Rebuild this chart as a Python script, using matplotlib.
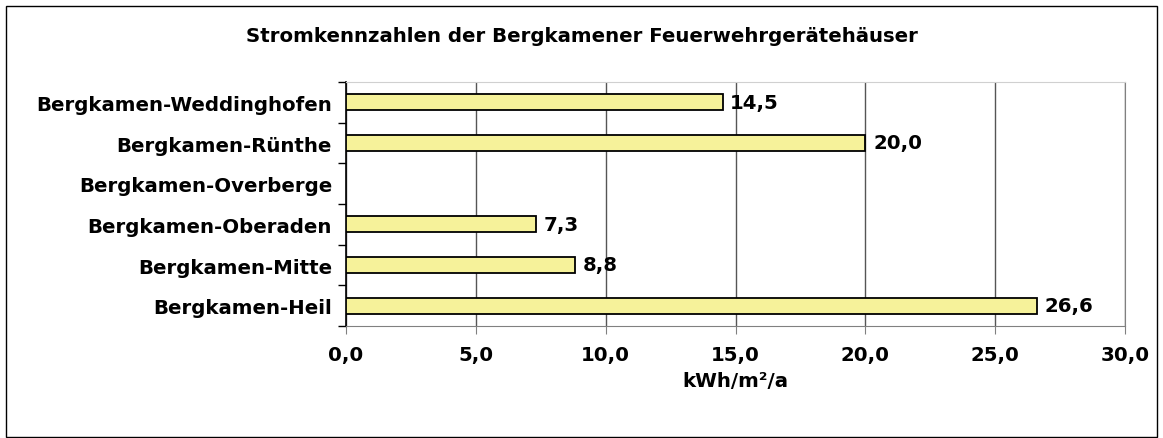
import numpy as np
import matplotlib.pyplot as plt
from matplotlib.patches import Rectangle

plt.rcParams['font.family'] = ['DejaVu Sans']
plt.rcParams['font.weight'] = 'bold'

# Daten
kategorien = ['Bergkamen-Heil', 'Bergkamen-Mitte', 'Bergkamen-Oberaden',
              'Bergkamen-Overberge', 'Bergkamen-Rünthe', 'Bergkamen-Weddinghofen']
werte = [26.6, 8.8, 7.3, np.nan, 20.0, 14.5]
x_ticks = [0, 5, 10, 15, 20, 25, 30]

FS = 14.2

fig = plt.figure(figsize=(11.63, 4.39), dpi=100)
ax = fig.add_axes([346 / 1163, 1 - 327 / 439, (1125 - 346) / 1163, (327 - 83) / 439])

# Rahmen um die ganze Grafik
fig.patches.append(Rectangle((6 / 1163, 1 / 439), 1151 / 1163, 431 / 439,
                             transform=fig.transFigure, fill=False,
                             edgecolor='black', linewidth=1.0))

y = np.arange(len(kategorien))
ax.barh(y, werte, height=0.4, color='#F6F29A', edgecolor='black', linewidth=1.3, zorder=3)

for yi, v in zip(y, werte):
    if not np.isnan(v):
        ax.text(v + 0.3, yi, f'{v:.1f}'.replace('.', ','), va='center', ha='left',
                fontsize=FS, fontweight='bold')

ax.set_xlim(0, 30)
ax.set_ylim(-0.5, len(kategorien) - 0.5)
ax.set_xticks(x_ticks)
ax.set_xticklabels([f'{t:.1f}'.replace('.', ',') for t in x_ticks], fontsize=FS, fontweight='bold')
ax.set_yticks(y)
ax.set_yticklabels(kategorien, fontsize=FS, fontweight='bold')
ax.set_yticks(np.arange(len(kategorien) + 1) - 0.5, minor=True)
ax.tick_params(axis='y', which='major', length=0, pad=10)
ax.tick_params(axis='y', which='minor', length=6, width=1, color='black')
ax.tick_params(axis='x', length=6, color='#808080', pad=8)

ax.grid(axis='x', color='#555555', linewidth=1.0, zorder=0)
ax.spines['left'].set_color('black')
ax.spines['left'].set_linewidth(1.2)
ax.spines['bottom'].set_color('#808080')
ax.spines['top'].set_color('#D0D0D0')
ax.spines['right'].set_color('#808080')

ax.set_xlabel('kWh/m²/a', fontsize=FS, fontweight='bold', labelpad=5)
fig.text(0.5, 1 - 37 / 439, 'Stromkennzahlen der Bergkamener Feuerwehrgerätehäuser',
         ha='center', va='center', fontsize=FS, fontweight='bold')

plt.savefig('out.png', dpi=100)
